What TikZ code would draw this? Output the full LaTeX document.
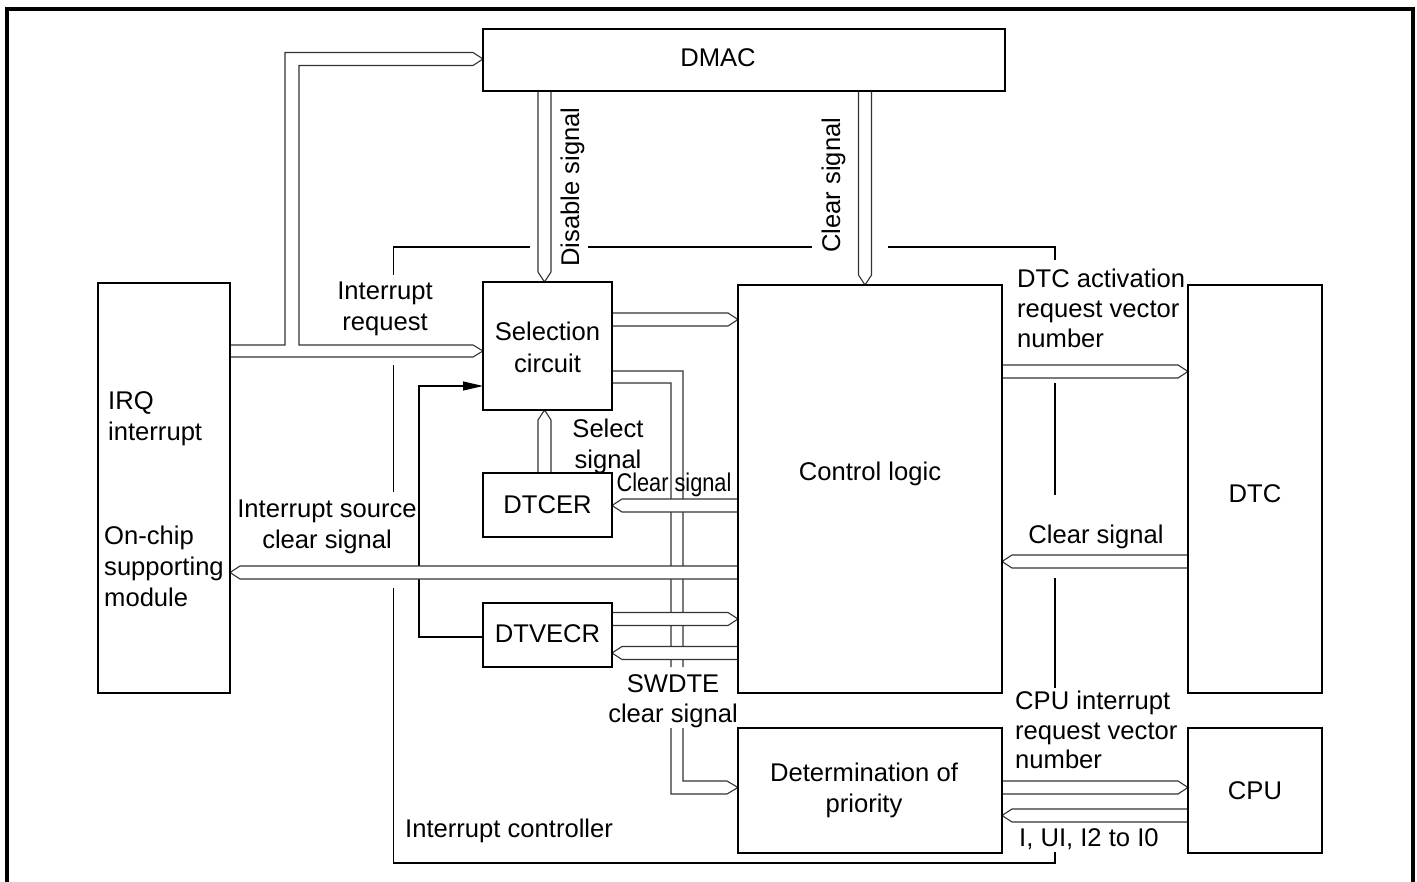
\documentclass[tikz,border=0pt]{standalone}
\usepackage{fontspec}
\setmainfont{Liberation Sans}
\usetikzlibrary{calc,arrows.meta}
\tikzset{
 box/.style={draw, line width=1.6pt, inner sep=0pt, outer sep=0pt},
 busline/.style={draw=black!80, line width=1.1pt, line join=miter},
 bus/.style={busline, fill=white},
 bound/.style={draw, line width=1.1pt},
 lbl/.style={font=\fontsize{25.6}{31}\selectfont, inner sep=0pt, anchor=base},
 lbll/.style={lbl, anchor=base west},
 frame/.style={line width=3.5pt, line join=miter},
}
\newcommand\busR[2]{\path[bus] ($(#1)+(0,-6.5)$) -- ($(#2)+(-10,-6.5)$) -- (#2) -- ($(#2)+(-10,6.5)$) -- ($(#1)+(0,6.5)$);}
\newcommand\busL[2]{\path[bus] ($(#1)+(0,-6.5)$) -- ($(#2)+(10,-6.5)$) -- (#2) -- ($(#2)+(10,6.5)$) -- ($(#1)+(0,6.5)$);}
\newcommand\busD[2]{\path[bus] ($(#1)+(-6.5,0)$) -- ($(#2)+(-6.5,-10)$) -- (#2) -- ($(#2)+(6.5,-10)$) -- ($(#1)+(6.5,0)$);}
\newcommand\busU[2]{\path[bus] ($(#1)+(-6.5,0)$) -- ($(#2)+(-6.5,10)$) -- (#2) -- ($(#2)+(6.5,10)$) -- ($(#1)+(6.5,0)$);}
\begin{document}
\begin{tikzpicture}[x=1pt,y=-1pt]
\useasboundingbox (0,0) rectangle (1417,882);
\fill[white] (0,0) rectangle (1417,882);
\draw[frame] (7,882) -- (7,9) -- (1413,9) -- (1413,882);

% boxes
\node[box, minimum width=522pt, minimum height=62pt] (dmac) at (744,60) {};
\node[box, minimum width=132pt, minimum height=410pt] (irq) at (164,488) {};
\node[box, minimum width=129pt, minimum height=128pt] (sel) at (547.5,346) {};
\node[box, minimum width=264pt, minimum height=408pt] (ctrl) at (870,489) {};
\node[box, minimum width=129pt, minimum height=64pt] (dtcer) at (547.5,505) {};
\node[box, minimum width=129pt, minimum height=64pt] (dtvecr) at (547.5,635) {};
\node[box, minimum width=134pt, minimum height=408pt] (dtc) at (1255,489) {};
\node[box, minimum width=264pt, minimum height=125pt] (prio) at (870,790.5) {};
\node[box, minimum width=134pt, minimum height=125pt] (cpu) at (1255,790.5) {};

% interrupt controller boundary
\draw[bound] (393.5,275) -- (393.5,247) -- (530,247);
\draw[bound] (588,247) -- (812,247);
\draw[bound] (888,247) -- (1055,247) -- (1055,260);
\draw[bound] (393.5,365) -- (393.5,492);
\draw[bound] (393.5,588) -- (393.5,863) -- (1055,863) -- (1055,852);
\draw[bound] (1055,383) -- (1055,495);
\draw[bound] (1055,578) -- (1055,688);

% coordinates
\coordinate (iq1) at (irq.east |- 0,345);
\coordinate (iq2) at (irq.east |- 0,357);
\coordinate (iqd) at (dmac.west |- 0,59);
\coordinate (iqs) at (sel.west |- 0,351);
\coordinate (sp1) at (sel.east |- 0,371);
\coordinate (sp2) at (sel.east |- 0,383);
\coordinate (spt) at (prio.west |- 0,787.5);
\coordinate (va) at (dtvecr.west |- 0,637);
\coordinate (vb) at (sel.west |- 0,386);
\coordinate (sc1) at (sel.east |- 0,319.5);
\coordinate (sc2) at (ctrl.west |- 0,319.5);
\coordinate (cd1) at (ctrl.west |- 0,505.5);
\coordinate (cd2) at (dtcer.east |- 0,505.5);
\coordinate (ci1) at (ctrl.west |- 0,572.5);
\coordinate (ci2) at (irq.east |- 0,572.5);
\coordinate (vc1) at (dtvecr.east |- 0,619);
\coordinate (vc2) at (ctrl.west |- 0,619);
\coordinate (cv1) at (ctrl.west |- 0,653);
\coordinate (cv2) at (dtvecr.east |- 0,653);
\coordinate (ct1) at (ctrl.east |- 0,371.5);
\coordinate (ct2) at (dtc.west |- 0,371.5);
\coordinate (tc1) at (dtc.west |- 0,561.5);
\coordinate (tc2) at (ctrl.east |- 0,561.5);
\coordinate (pc1) at (prio.east |- 0,787.5);
\coordinate (pc2) at (cpu.west |- 0,787.5);
\coordinate (cp1) at (cpu.west |- 0,815.5);
\coordinate (cp2) at (prio.east |- 0,815.5);
\coordinate (ds1) at (544.5,0 |- dmac.south);
\coordinate (ds2) at (544.5,0 |- sel.north);
\coordinate (dc1) at (865,0 |- dmac.south);
\coordinate (dc2) at (865,0 |- ctrl.north);
\coordinate (es1) at (544.5,0 |- dtcer.north);
\coordinate (es2) at (544.5,0 |- sel.south);

% IRQ bus to DMAC and selection circuit
\draw[busline] (iq1) -- (285,345) -- (285,52.5) -- (473,52.5) -- (iqd) -- (473,65.5) -- (299,65.5) -- (299,345) -- (473,345) -- (iqs) -- (473,357) -- (iq2);

% selection circuit to determination of priority
\draw[busline] (sp1) -- (683,371) -- (683,667) (683,728) -- (683,781) -- (727,781) -- (spt) -- (727,794) -- (671,794) -- (671,728) (671,667) -- (671,383) -- (sp2);

% DTVECR to selection circuit
\draw[line width=1.1pt, -{Triangle[length=20pt,width=9pt]}] (va) -- (419,637) -- (419,386) -- (vb);

% buses
\busD{ds1}{ds2}
\busD{dc1}{dc2}
\busU{es1}{es2}
\busR{sc1}{sc2}
\busL{cd1}{cd2}
\busL{ci1}{ci2}
\busR{vc1}{vc2}
\busL{cv1}{cv2}
\busR{ct1}{ct2}
\busL{tc1}{tc2}
\busR{pc1}{pc2}
\busL{cp1}{cp2}

% redraw box borders on top
\foreach \n in {dmac,irq,sel,ctrl,dtcer,dtvecr,dtc,prio,cpu}
  \draw[line width=1.6pt] (\n.south west) rectangle (\n.north east);

% labels
\node[lbl] (tdmac) at (718,67) {DMAC};
\node[lbll, rotate=90] (tdis) at (579,267) {Disable signal};
\node[lbll, rotate=90] (tclr) at (840,253) {Clear signal};
\node[lbl] (tir1) at (385,300) {Interrupt};
\node[lbl] (tir2) at (385,331) {request};
\node[lbl] (tsel1) at (547.5,341) {Selection};
\node[lbl] (tsel2) at (547.5,373) {circuit};
\node[lbl] (tss1) at (608,438) {Select};
\node[lbl] (tss2) at (608,469) {signal};
\node[lbl] (tdtcer) at (547.5,513) {DTCER};
\node[lbl] (tdtvecr) at (547.5,642) {DTVECR};
\node[lbl] (tcs) at (674,491) {\scalebox{0.85}[1]{Clear signal}};
\node[lbl] (tctrl) at (870,481) {Control logic};
\node[lbll] (tirq1) at (108,410) {IRQ};
\node[lbll] (tirq2) at (108,441) {interrupt};
\node[lbll] (toc1) at (104,544) {On-chip};
\node[lbll] (toc2) at (104,575) {supporting};
\node[lbll] (toc3) at (104,606) {module};
\node[lbl] (tis1) at (327,517) {Interrupt source};
\node[lbl] (tis2) at (327,548) {clear signal};
\node[lbl] (tsw1) at (673,692) {SWDTE};
\node[lbl] (tsw2) at (673,722) {clear signal};
\node[lbl] (tpr1) at (864,781) {Determination of};
\node[lbl] (tpr2) at (864,812) {priority};
\node[lbl] (tdtc) at (1255,502) {DTC};
\node[lbl] (tcpu) at (1255,799) {CPU};
\node[lbll] (tda1) at (1017,288) {DTC activation};
\node[lbll] (tda2) at (1017,318) {request vector};
\node[lbll] (tda3) at (1017,348) {number};
\node[lbl] (tcs2) at (1096,543) {Clear signal};
\node[lbll] (tci1) at (1015,709) {CPU interrupt};
\node[lbll] (tci2) at (1015,739) {request vector};
\node[lbll] (tci3) at (1015,768) {number};
\node[lbll] (tiu) at (1019,846) {I, UI, I2 to I0};
\node[lbll] (tic) at (405,837) {Interrupt controller};
\end{tikzpicture}
\end{document}
